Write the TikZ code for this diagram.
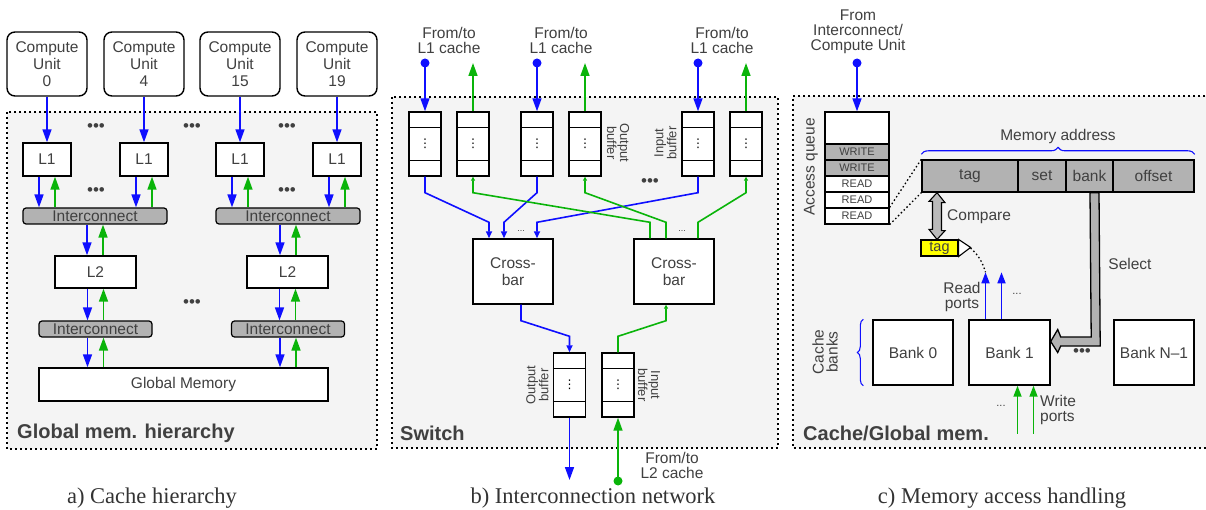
\documentclass[tikz,border=0pt]{standalone}
\usepackage{fontspec}
\setmainfont{Liberation Sans}
\newfontfamily\capfont{Liberation Serif}
\newfontfamily\symfont{DejaVu Sans}
\usetikzlibrary{arrows.meta,decorations.pathreplacing,calc}
\definecolor{bl}{RGB}{15,15,255}
\definecolor{gr}{RGB}{10,180,10}
\definecolor{tgray}{RGB}{64,64,64}
\definecolor{panelbg}{RGB}{244,244,244}
\definecolor{icgray}{RGB}{178,178,178}
\definecolor{tagyel}{RGB}{255,255,0}
\newcommand\mybuf[3]{%
  \node[mybox, minimum width=32pt, minimum height=64pt, font=\symfont\fontsize{12}{12}\selectfont, text=black] (#1) at (#2,#3) {⋮};
  \draw[line width=1.4pt] ([yshift=-16pt]#1.north west) -- ([yshift=-16pt]#1.north east);
  \draw[line width=1.4pt] ([yshift=16pt]#1.south west) -- ([yshift=16pt]#1.south east);}
\begin{document}
\begin{tikzpicture}[x=1pt,y=-1pt,
  lbl/.style={font=\fontsize{15.5}{17}\selectfont, text=tgray, align=center, inner sep=0},
  mybox/.style={draw=black, line width=1.4pt, fill=white, inner sep=0, lbl},
  cubox/.style={mybox, rounded corners=8pt, minimum width=80pt, minimum height=64pt},
  l1box/.style={mybox, minimum width=48pt, minimum height=33pt},
  icbox/.style={draw=black, line width=1.2pt, fill=icgray, rounded corners=3pt, inner sep=0, lbl, minimum height=16pt},
  panelbox/.style={draw=black, fill=panelbg, line width=1.5pt, dash pattern=on 2pt off 3pt},
  abig/.style={line width=1.6pt, -{Triangle[length=13pt,width=9pt]}},
  amed/.style={line width=1.6pt, -{Triangle[length=11pt,width=8pt]}},
  amid/.style={line width=1.6pt, -{Triangle[length=7pt,width=6pt]}},
  atiny/.style={line width=1.6pt, -{Triangle[length=4pt,width=4pt]}},
  barr/.style={draw=bl}, garr/.style={draw=gr},
  bdots/.style={font=\fontsize{17}{17}\selectfont, text=tgray, inner sep=0},
  sdots/.style={font=\fontsize{11}{11}\selectfont, text=tgray, inner sep=0},
  btitle/.style={font=\fontsize{20}{20}\selectfont\bfseries, text=tgray, anchor=west, inner sep=0},
  capt/.style={font=\capfont\fontsize{22.5}{24}\selectfont, text=black!80, inner sep=0},
  rlbl/.style={font=\fontsize{13}{13}\selectfont, text=tgray, align=center, inner sep=0},
  qcell/.style={draw=black, line width=1.2pt, inner sep=0, minimum width=64pt, minimum height=16pt, font=\fontsize{11}{11}\selectfont, text=tgray},
  acell/.style={draw=black, line width=1.4pt, fill=icgray, inner sep=0, minimum height=32pt, lbl},
  dotl/.style={line width=1.3pt, dash pattern=on 1.5pt off 2.5pt}
]
\useasboundingbox (0,0) rectangle (1206,510);

% ---------------- panels
\path[panelbox] (7,112) rectangle (377,449);
\path[panelbox] (392,97) rectangle (778,448);
\fill[panelbg] (793,96) rectangle (1210,448);
\draw[line width=1.5pt, dash pattern=on 2pt off 3pt] (1210,96) -- (793,96) -- (793,448) -- (1210,448);

% ---------------- a) cache hierarchy
\foreach \n/\x/\t in {0/47/0, 1/144/4, 2/240/15, 3/337/19} {
  \node[cubox] (cu\n) at (\x,64) {Compute\\Unit\\\t};
  \node[l1box] (l1\n) at (\x,159.5) {L1};
  \draw[barr,abig] (cu\n) -- (l1\n);
}
\node[icbox, minimum width=144pt] (ica) at (95,216) {Interconnect};
\node[icbox, minimum width=144pt] (icb) at (288,216) {Interconnect};
\foreach \n/\i in {0/ica, 1/ica, 2/icb, 3/icb} {
  \draw[barr,abig] ([xshift=-8pt]l1\n.south) -- ([xshift=-8pt]l1\n.south |- \i.north);
  \draw[garr,abig] ([xshift=8pt]l1\n.south |- \i.north) -- ([xshift=8pt]l1\n.south);
}
\node[mybox, minimum width=81pt, minimum height=32pt] (l2a) at (95.5,272) {L2};
\node[mybox, minimum width=81pt, minimum height=32pt] (l2b) at (287.5,272) {L2};
\node[icbox, minimum width=113pt] (icc) at (95.5,329) {Interconnect};
\node[icbox, minimum width=113pt] (icd) at (288,329) {Interconnect};
\node[mybox, minimum width=289pt, minimum height=33pt] (gm) at (183.5,384.5) {Global Memory};
\foreach \u/\v in {ica/l2a, icb/l2b, l2a/icc, l2b/icd, icc/gm, icd/gm} {
  \draw[barr,abig] ([xshift=-8pt]\u.south) -- ([xshift=-8pt]\u.south |- \v.north);
  \draw[garr,abig] ([xshift=8pt]\u.south |- \v.north) -- ([xshift=8pt]\u.south);
}
\foreach \p in {(96,128),(192,128),(287,128),(96,192),(287,192),(192,304)}
  \node[bdots] at \p {•••};
\node[btitle] (ta) at (17,433) {Global mem. hierarchy};
\node[capt] (ca) at (152,498) {a) Cache hierarchy};

% ---------------- b) interconnection network
\node[lbl, font=\fontsize{15.5}{15.5}\selectfont] (fa) at (449,40.5) {From/to\\L1 cache};
\node[lbl, font=\fontsize{15.5}{15.5}\selectfont] (fb) at (561,40.5) {From/to\\L1 cache};
\node[lbl, font=\fontsize{15.5}{15.5}\selectfont] (fc) at (722,40.5) {From/to\\L1 cache};
\mybuf{b1}{425}{144}
\mybuf{b2}{473}{144}
\mybuf{b3}{537}{144}
\mybuf{b4}{585}{144}
\mybuf{b5}{698}{144}
\mybuf{b6}{746}{144}
\foreach \b/\x in {1/425, 3/537, 5/698} {
  \coordinate (d\b) at (\x,63);
  \fill[bl] (d\b) circle (4.5pt);
  \draw[barr,abig] (d\b) -- (b\b.north);
}
\foreach \b/\x in {2/473, 4/585, 6/746} {
  \coordinate (g\b) at (\x,63);
  \draw[garr,abig] (b\b.north) -- (g\b);
}
\node[rlbl, rotate=-90] (ob1) at (618,143) {Output\\buffer};
\node[rlbl, rotate=90] (ib1) at (665.5,143) {Input\\buffer};
\node[bdots] at (650,183) {•••};
\node[mybox, minimum width=80pt, minimum height=65pt] (cb1) at (513,271.5) {Cross-\\bar};
\node[mybox, minimum width=80pt, minimum height=65pt] (cb2) at (674,271.5) {Cross-\\bar};
\node[sdots, font=\fontsize{9}{9}\selectfont] at (521,231) {...};
\node[sdots, font=\fontsize{9}{9}\selectfont] at (682,231) {...};
% blue into crossbar 1
\draw[barr,amid] (b1.south) -- ++(0,16) -- ($(cb1.north)+(-24,-16)$) -- ([xshift=-24pt]cb1.north);
\draw[barr,amid] (b3.south) -- ++(0,16) -- ($(cb1.north)+(-9,-16)$) -- ([xshift=-9pt]cb1.north);
\draw[barr,amid] (b5.south) -- ++(0,16) -- ($(cb1.north)+(24,-16)$) -- ([xshift=24pt]cb1.north);
% green out of crossbar 2
\draw[garr,atiny] ([xshift=-24pt]cb2.north) -- ++(0,-16) -- ($(b2.south)+(0,16)$) -- (b2.south);
\draw[garr,atiny] ([xshift=-8pt]cb2.north) -- ++(0,-16) -- ($(b4.south)+(0,16)$) -- (b4.south);
\draw[garr,atiny] ([xshift=24pt]cb2.north) -- ++(0,-16) -- ($(b6.south)+(0,16)$) -- (b6.south);
% bottom buffers
\mybuf{ob}{569.5}{385}
\mybuf{ib}{618}{385}
\node[rlbl, rotate=90] (ob2) at (537.5,385) {Output\\buffer};
\node[rlbl, rotate=-90] (ib2) at (649,385) {Input\\buffer};
\draw[barr,amid] ([xshift=8pt]cb1.south) -- ++(0,16) -- ($(ob.north)+(0,-16)$) -- (ob.north);
\draw[garr,atiny] (ib.north) -- ++(0,-16) -- ($(cb2.south)+(-8,16)$) -- ([xshift=-8pt]cb2.south);
\coordinate (bo) at (569.5,480);
\draw[barr,abig] (ob.south) -- (bo);
\coordinate (gi) at (618,481);
\fill[gr] (gi) circle (4.5pt);
\draw[garr,abig] (gi) -- (ib.south);
\node[lbl, font=\fontsize{15.5}{15.5}\selectfont] (fl2) at (672,465.5) {From/to\\L2 cache};
\node[btitle] (tb) at (400,433) {Switch};
\node[capt] (cbcap) at (593,498) {b) Interconnection network};

% ---------------- c) memory access handling
\node[lbl, font=\fontsize{15.5}{15}\selectfont] (fic) at (858,32) {From\\Interconnect/\\Compute Unit};
\coordinate (dq) at (857,63);
\fill[bl] (dq) circle (4.5pt);
\node[qcell, fill=white, minimum height=32pt] (q0) at (857,128) {};
\node[qcell, fill=icgray] (q1) at (857,152) {WRITE};
\node[qcell, fill=icgray] (q2) at (857,168) {WRITE};
\node[qcell, fill=white] (q3) at (857,184) {READ};
\node[qcell, fill=white] (q4) at (857,200) {READ};
\node[qcell, fill=white] (q5) at (857,216) {READ};
\draw[barr,abig] (dq) -- (q0.north);
\node[lbl, rotate=90] (aq) at (811,167) {Access queue};
\node[acell, minimum width=96pt] (atag) at (970,176) {tag};
\node[acell, minimum width=48pt] (aset) at (1042,176) {set};
\node[acell, minimum width=47pt] (abank) at (1089.5,176) {bank};
\node[acell, minimum width=81pt] (aoff) at (1153.5,176) {offset};
\draw[bl, line width=1.1pt, decorate, decoration={brace, amplitude=7pt}]
  ([yshift=5pt]atag.north west) -- ([yshift=5pt]aoff.north east);
\node[lbl] (ma) at (1058,136) {Memory address};
\draw[dotl] (q5.north east) -- (atag.north west);
\draw[dotl] (q5.south east) -- (atag.south west);
% tag flag
\node[draw=black, line width=1.1pt, fill=tagyel, inner sep=0, minimum width=37pt, minimum height=16pt,
      font=\fontsize{14.5}{14.5}\selectfont, text=tgray] (tg) at (939.5,248) {tag};
\draw[line width=1.1pt, fill=white] (tg.north east) -- ++(12,8) -- (tg.south east) -- cycle;
% compare double arrow
\coordinate (ct) at ([xshift=-2.5pt]tg.north |- atag.south);
\draw[line width=1.1pt, fill=icgray!90!white] (ct) -- ++(8,10) -- ++(-3.5,0) -- ++(0,28) -- ++(3.5,0)
  -- (ct |- tg.north) -- ++(-8,-10) -- ++(3.5,0) -- ++(0,-28) -- ++(-3.5,0) -- cycle;
\node[lbl, anchor=west] (cmp) at (947,217) {Compare};
% banks
\node[mybox, minimum width=80pt, minimum height=65pt] (bk0) at (913,352.5) {Bank 0};
\node[mybox, minimum width=81pt, minimum height=65pt] (bk1) at (1009.5,352.5) {Bank 1};
\node[mybox, minimum width=80pt, minimum height=65pt] (bkn) at (1154,352.5) {Bank N–1};
\node[bdots] at (1082,353) {•••};
% select arrow
\draw[line width=1.3pt, fill=icgray]
  ($(abank.south)+(0.5,0)$) -- ++(9,0) -- ($(bk1.east)+(49.5,-6.5)$) -- ($(bk1.east)+(10,-6.5)$)
  -- ($(bk1.east)+(7,0)$) -- ($(bk1.east)+(0,-11)$) -- ($(bk1.east)+(7,-23)$)
  -- ($(bk1.east)+(10,-15.5)$) -- ($(bk1.east)+(40.5,-15.5)$) -- cycle;
\node[lbl] (sel) at (1130,264) {Select};
% read ports
\coordinate (rp1) at ($(bk1.north)+(-24,-47)$);
\coordinate (rp2) at ($(bk1.north)+(-8,-47)$);
\draw[barr,amed] ([xshift=-24pt]bk1.north) -- (rp1);
\draw[barr,amed] ([xshift=-8pt]bk1.north) -- (rp2);
\node[lbl, font=\fontsize{15.5}{14.5}\selectfont] (rpl) at (962,297) {Read\\ports};
\node[sdots] at (1017,294) {...};
\draw[dotl] ($(tg.east)+(12,0)$) to[bend left=15] (rp1);
% write ports
\coordinate (wp1) at ($(bk1.south)+(8,48)$);
\coordinate (wp2) at ($(bk1.south)+(24,48)$);
\draw[garr,amed] (wp1) -- ([xshift=8pt]bk1.south);
\draw[garr,amed] (wp2) -- ([xshift=24pt]bk1.south);
\node[lbl, font=\fontsize{15.5}{14.5}\selectfont, align=left, anchor=west] (wpl) at (1040,410) {Write\\ports};
\node[sdots] at (1001,406) {...};
% cache banks
\node[lbl, font=\fontsize{15.5}{14}\selectfont, rotate=90] (cbl) at (825,352) {Cache\\banks};
\draw[bl, line width=1.1pt, decorate, decoration={brace, amplitude=6pt}]
  ([xshift=-9pt]bk0.south west) -- ([xshift=-9pt]bk0.north west);
\node[btitle] (tc) at (803,433) {Cache/Global mem.};
\node[capt] (cc) at (1002,498) {c) Memory access handling};
\end{tikzpicture}
\end{document}
